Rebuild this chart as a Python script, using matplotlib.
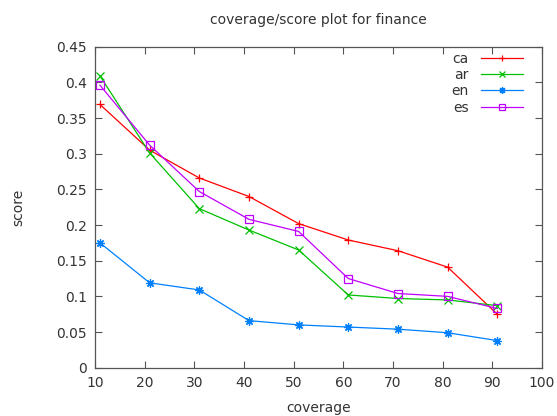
import matplotlib
matplotlib.use("Agg")
import matplotlib.pyplot as plt

coverage = [11, 21, 31, 41, 51, 61, 71, 81, 91]

ca = [0.369, 0.305, 0.266, 0.240, 0.202, 0.179, 0.164, 0.141, 0.075]
ar = [0.409, 0.301, 0.223, 0.193, 0.165, 0.102, 0.097, 0.095, 0.087]
en = [0.175, 0.119, 0.109, 0.066, 0.060, 0.057, 0.054, 0.049, 0.038]
es = [0.396, 0.312, 0.247, 0.208, 0.191, 0.125, 0.104, 0.100, 0.083]

labels = ['ca', 'ar', 'en', 'es']
colors = ['#ff0000', '#00c000', '#0080ff', '#c000ff']
markers = ['+', 'x', (8, 2, 0), 's']

plt.rcParams['font.family'] = 'DejaVu Sans'
plt.rcParams['font.size'] = 10

fig = plt.figure(figsize=(5.57, 4.16), dpi=100)
ax = fig.add_axes([0.1706, 0.1161, 0.8024, 0.7716])

for vals, lab, col, mk in zip([ca, ar, en, es], labels, colors, markers):
    ax.plot(
        coverage, vals,
        color=col,
        marker=mk,
        markersize=6,
        markerfacecolor='none' if mk == 's' else col,
        markeredgewidth=0.9,
        linewidth=0.9,
        label=lab
    )

ax.set_xlim(10, 100)
ax.set_ylim(0, 0.45)
ax.set_xticks(range(10, 101, 10))
ax.set_yticks([i * 0.05 for i in range(10)])
ax.set_yticklabels(['0', '0.05', '0.1', '0.15', '0.2', '0.25',
                    '0.3', '0.35', '0.4', '0.45'])

ax.tick_params(direction='in', top=True, right=True, length=5,
               width=0.8, color='#555555', labelcolor='#333333', pad=6)
for sp in ax.spines.values():
    sp.set_color('#555555')
    sp.set_linewidth(0.9)

ax.set_title("coverage/score plot for finance", fontsize=10,
             color='#333333', pad=16)
ax.set_xlabel("coverage", color='#333333', labelpad=8)
ax.set_ylabel("score", color='#333333', labelpad=22)

# key in the top right corner, label first then line sample
leg = ax.legend(
    loc='upper right',
    bbox_to_anchor=(0.9575, 0.984),
    markerfirst=False,
    frameon=False,
    handlelength=3.0,
    handletextpad=0.9,
    labelspacing=0.16,
    borderaxespad=0,
    borderpad=0,
    markerscale=0.8,
    fontsize=10
)
for t in leg.get_texts():
    t.set_color('#333333')
    t.set_ha('right')

fig.savefig("out.png", dpi=100)
